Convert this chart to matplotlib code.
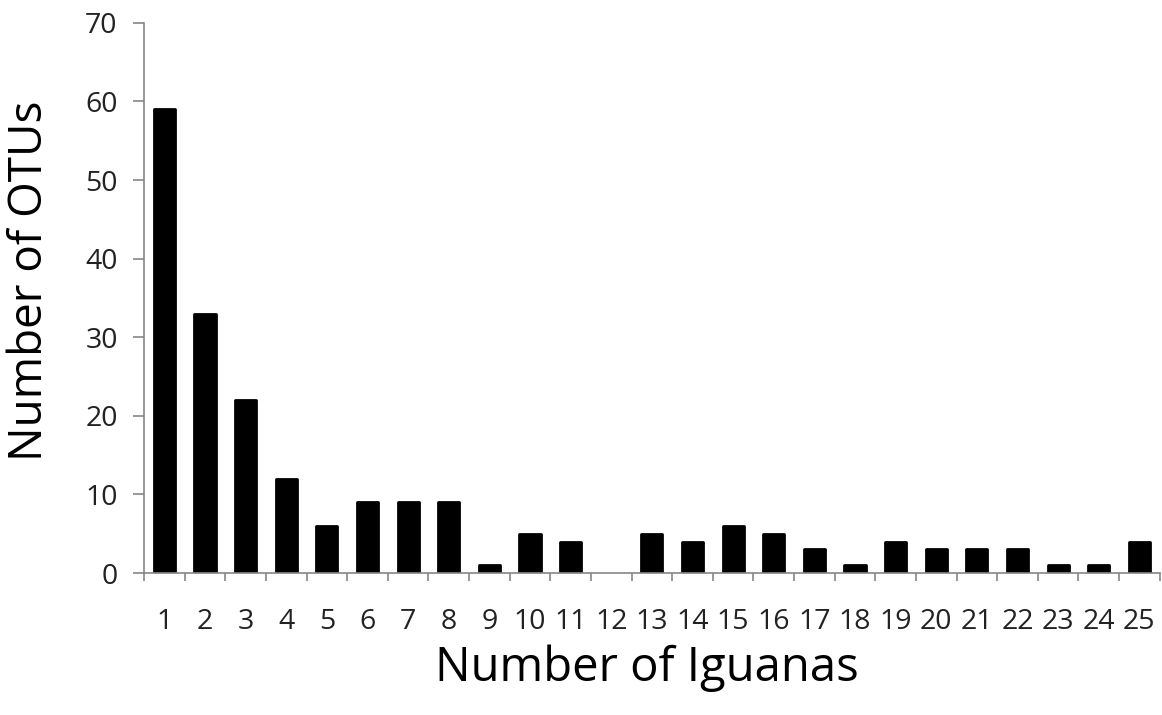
import numpy as np
import matplotlib.pyplot as plt

plt.rcParams['font.family'] = ['Open Sans', 'DejaVu Sans']

iguanas = list(range(1, 26))
otus = [59, 33, 22, 12, 6, 9, 9, 9, 1, 5, 4, 0, 5, 4, 6, 5, 3, 1, 4, 3, 3, 3, 1, 1, 4]

grey = '#868686'

fig = plt.figure(figsize=(11.62, 7.15), dpi=100)
ax = fig.add_axes([0.124, 0.1986, 0.874, 0.7694])

x = np.arange(len(iguanas))
# no outline on empty bars, otherwise a thin stub shows up on the axis
edges = ['black' if v > 0 else 'none' for v in otus]
ax.bar(x, otus, width=0.52, color='black', edgecolor=edges,
       linewidth=2, joinstyle='round')

ax.set_xlim(-0.5, len(iguanas) - 0.5)
ax.set_ylim(0, 70)
ax.set_yticks(range(0, 71, 10))
ax.set_xticks(x)
ax.set_xticklabels([str(i) for i in iguanas])
ax.set_xticks(np.arange(-0.5, len(iguanas), 1.0), minor=True)

for s in ['top', 'right']:
    ax.spines[s].set_visible(False)
for s in ['left', 'bottom']:
    ax.spines[s].set_color(grey)
    ax.spines[s].set_linewidth(1.2)

ax.tick_params(axis='y', direction='out', length=8, width=1.2, color=grey,
               labelsize=20.5, pad=11, labelcolor='#222222')
ax.tick_params(axis='x', which='major', length=0, labelsize=20.5, pad=25,
               labelcolor='#222222')
ax.tick_params(axis='x', which='minor', direction='out', length=6,
               width=1.2, color=grey)

ax.set_xlabel('Number of Iguanas', fontsize=34)
ax.set_ylabel('Number of OTUs', fontsize=33)
ax.xaxis.set_label_coords(0.495, -0.174)
ax.yaxis.set_label_coords(-0.112, 0.531)
ax.xaxis.label.set_va('center')
ax.yaxis.label.set_va('center')

fig.savefig('out.png', dpi=100)
